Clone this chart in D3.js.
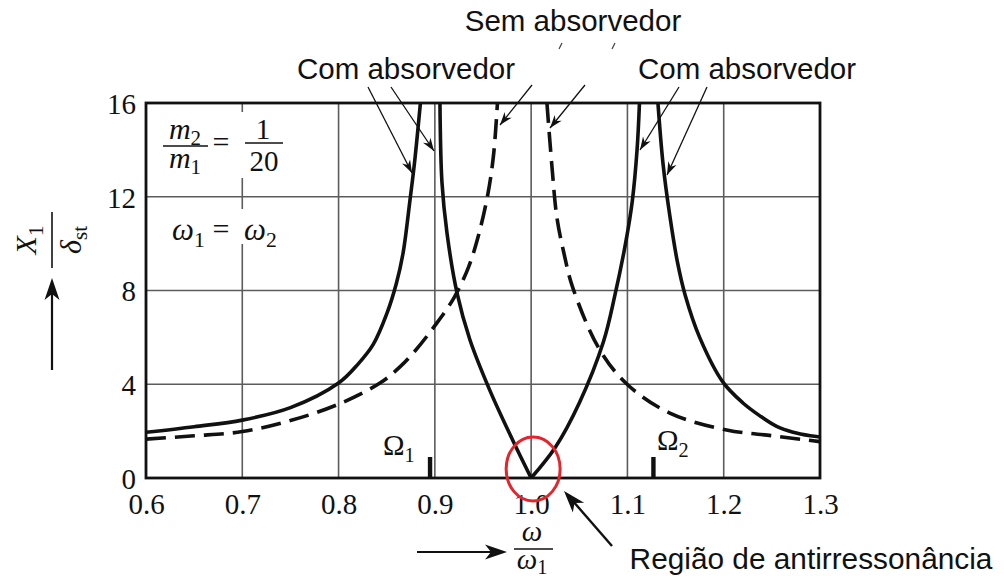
<!DOCTYPE html>
<html>
<head>
<meta charset="utf-8">
<script src="https://cdn.jsdelivr.net/npm/d3@7"></script>
<style>
  body { margin: 0; background: #fff; }
  svg { display: block; }
</style>
</head>
<body>
<script>
// Axis ticks
const freqTicks = [0.6, 0.7, 0.8, 0.9, 1.0, 1.1, 1.2, 1.3];
const ampTicks = [0, 4, 8, 12, 16];

// With absorber: branch below the first resonance
const withAbsLowR = [0.600, 0.650, 0.700, 0.750, 0.800, 0.820, 0.836, 0.850, 0.860, 0.867, 0.874, 0.879, 0.885];
const withAbsLowX = [1.95, 2.19, 2.47, 3.00, 4.05, 4.85, 5.70, 7.00, 8.30, 9.60, 11.8, 13.5, 16.0];
// With absorber: between the resonances, down to the antiresonance at 1.0
const withAbsMidLeftR = [0.9053, 0.9074, 0.9126, 0.9230, 0.9364, 0.9570, 0.9810, 1.0000];
const withAbsMidLeftX = [16.0, 12.6, 10.45, 7.9, 5.9, 3.75, 1.6, 0];
const withAbsMidRightR = [1.0000, 1.0250, 1.0500, 1.0750, 1.0870, 1.0980, 1.1050, 1.1100, 1.1125];
const withAbsMidRightX = [0, 1.3, 3.2, 5.8, 7.8, 10.0, 11.8, 14.0, 16.0];
// With absorber: branch above the second resonance
const withAbsHighR = [1.1317, 1.1370, 1.1440, 1.1520, 1.1600, 1.1750, 1.1990, 1.2200, 1.2376, 1.2550, 1.2720, 1.2900, 1.3000];
const withAbsHighX = [16.0, 13.4, 11.2, 9.2, 7.8, 6.0, 4.1, 3.2, 2.65, 2.2, 1.95, 1.8, 1.75];

// Without absorber
const noAbsLowR = [0.600, 0.650, 0.700, 0.750, 0.800, 0.843, 0.864, 0.880, 0.900, 0.920, 0.935, 0.945, 0.955, 0.961, 0.965];
const noAbsLowX = [1.66, 1.80, 1.98, 2.45, 3.15, 4.05, 4.75, 5.45, 6.50, 7.70, 9.00, 10.3, 12.1, 13.8, 16.0];
const noAbsHighR = [1.0164, 1.0216, 1.0268, 1.0340, 1.0434, 1.0714, 1.1005, 1.1440, 1.2030, 1.2510, 1.3000];
const noAbsHighX = [16.0, 13.3, 11.1, 9.6, 8.1, 5.46, 3.97, 2.77, 2.05, 1.80, 1.55];

// Natural frequencies of the two-mass system
const omegaMarks = [{ r: 0.895, name: "Ω", idx: "1" }, { r: 1.127, name: "Ω", idx: "2" }];

const W = 1004, H = 580;
const SERIF = "'Liberation Serif', 'DejaVu Serif', serif";
const SANS = "'Liberation Sans', Arial, sans-serif";
const INK = "#111";

const svg = d3.select("body").append("svg").attr("width", W).attr("height", H);

const x = d3.scaleLinear().domain([0.6, 1.3]).range([146, 820]);
const y = d3.scaleLinear().domain([0, 16]).range([478, 103]);

const defs = svg.append("defs");
defs.append("clipPath").attr("id", "plot-clip")
  .append("rect").attr("x", x(0.6)).attr("y", y(16))
  .attr("width", x(1.3) - x(0.6)).attr("height", y(0) - y(16));

defs.append("marker").attr("id", "thin-head")
  .attr("viewBox", "-14 -6 15 12").attr("refX", 0).attr("refY", 0)
  .attr("markerUnits", "userSpaceOnUse").attr("markerWidth", 15).attr("markerHeight", 12)
  .attr("orient", "auto")
  .append("path").attr("d", "M0,0 L-13,-4.5 L-9,0 L-13,4.5 Z").attr("fill", INK);

// Grid
const grid = svg.append("g").attr("stroke", "#5c5c5c").attr("stroke-width", 1.6);
grid.selectAll("line.v").data(freqTicks.slice(1, -1)).join("line").attr("class", "v")
  .attr("x1", d => x(d)).attr("x2", d => x(d)).attr("y1", y(16)).attr("y2", y(0));
grid.selectAll("line.h").data(ampTicks.slice(1, -1)).join("line").attr("class", "h")
  .attr("x1", x(0.6)).attr("x2", x(1.3)).attr("y1", d => y(d)).attr("y2", d => y(d));

// Paper behind the parameter notes
svg.append("rect").attr("x", 152).attr("y", 112).attr("width", 138).attr("height", 66).attr("fill", "#fff");
svg.append("rect").attr("x", 160).attr("y", 209).attr("width", 126).attr("height", 35).attr("fill", "#fff");

// Curves
const line = d3.line().x(d => x(d[0])).y(d => y(d[1])).curve(d3.curveCatmullRom.alpha(0.5));
const zip = (rs, xs) => rs.map((r, i) => [r, xs[i]]);
const curves = svg.append("g").attr("clip-path", "url(#plot-clip)")
  .attr("fill", "none").attr("stroke", INK).attr("stroke-width", 3.6);

[[withAbsLowR, withAbsLowX], [withAbsMidLeftR, withAbsMidLeftX],
 [withAbsMidRightR, withAbsMidRightX], [withAbsHighR, withAbsHighX]]
  .forEach(([rs, xs]) => curves.append("path").attr("d", line(zip(rs, xs))));

[[noAbsLowR, noAbsLowX], [noAbsHighR, noAbsHighX]]
  .forEach(([rs, xs]) => curves.append("path").attr("d", line(zip(rs, xs)))
    .attr("stroke-dasharray", "20 9"));

// Frame
svg.append("rect").attr("x", x(0.6)).attr("y", y(16))
  .attr("width", x(1.3) - x(0.6)).attr("height", y(0) - y(16))
  .attr("fill", "none").attr("stroke", INK).attr("stroke-width", 2.8);

// Axes
const xAxisG = svg.append("g").attr("transform", `translate(0,${y(0)})`)
  .call(d3.axisBottom(x).tickValues(freqTicks).tickFormat(d3.format(".1f")).tickSize(0).tickPadding(15));
const yAxisG = svg.append("g").attr("transform", `translate(${x(0.6)},0)`)
  .call(d3.axisLeft(y).tickValues(ampTicks).tickFormat(d3.format("d")).tickSize(0).tickPadding(10));
[xAxisG, yAxisG].forEach(g => {
  g.select(".domain").remove();
  g.attr("font-family", SERIF).attr("font-size", 29);
  g.selectAll("text").attr("fill", INK);
});
yAxisG.selectAll("text").attr("dy", "0.36em");

// Natural frequency marks
svg.append("g").selectAll("rect").data(omegaMarks).join("rect")
  .attr("x", d => x(d.r) - 2.2).attr("width", 4.4)
  .attr("y", y(0) - 21).attr("height", 21).attr("fill", INK);

function subText(parent, px, py, main, idx, o = {}) {
  const size = o.size || 29;
  const t = parent.append("text").attr("x", px).attr("y", py)
    .attr("font-family", SERIF).attr("font-size", size).attr("fill", INK)
    .attr("text-anchor", o.anchor || "start");
  t.append("tspan").attr("font-style", o.italic ? "italic" : "normal").text(main);
  if (idx) t.append("tspan").attr("font-size", size * 0.7).attr("dy", o.drop || 7).text(idx);
  return t;
}

subText(svg, 383, 455, "Ω", "1", { size: 29, drop: 7 });
subText(svg, 657, 450, "Ω", "2", { size: 29, drop: 7 });

// Parameter notes: m2/m1 = 1/20 and ω1 = ω2
const notes = svg.append("g");
subText(notes, 185, 139, "m", "2", { italic: true, anchor: "middle", size: 30, drop: 6 });
notes.append("line").attr("x1", 163).attr("x2", 208).attr("y1", 146).attr("y2", 146)
  .attr("stroke", INK).attr("stroke-width", 1.6);
subText(notes, 185, 168, "m", "1", { italic: true, anchor: "middle", size: 30, drop: 6 });
notes.append("text").attr("x", 221).attr("y", 152).attr("text-anchor", "middle")
  .attr("font-family", SERIF).attr("font-size", 30).attr("fill", INK).text("=");
notes.append("text").attr("x", 263).attr("y", 139).attr("text-anchor", "middle")
  .attr("font-family", SERIF).attr("font-size", 29).attr("fill", INK).text("1");
notes.append("line").attr("x1", 245).attr("x2", 283).attr("y1", 143).attr("y2", 143)
  .attr("stroke", INK).attr("stroke-width", 1.6);
notes.append("text").attr("x", 264).attr("y", 171).attr("text-anchor", "middle")
  .attr("font-family", SERIF).attr("font-size", 29).attr("fill", INK).text("20");

subText(notes, 172, 240, "ω", "1", { italic: true, size: 31 });
notes.append("text").attr("x", 221).attr("y", 239).attr("text-anchor", "middle")
  .attr("font-family", SERIF).attr("font-size", 30).attr("fill", INK).text("=");
subText(notes, 244, 240, "ω", "2", { italic: true, size: 31 });

// Y axis title: X1 / δst with upward arrow
const yt = svg.append("g").attr("transform", "translate(52,240) rotate(-90)");
yt.append("line").attr("x1", -28).attr("x2", 28).attr("y1", 0).attr("y2", 0)
  .attr("stroke", INK).attr("stroke-width", 1.6);
subText(yt, 0, -16, "X", "1", { italic: true, anchor: "middle", size: 30 });
subText(yt, 0, 29, "δ", "st", { italic: true, anchor: "middle", size: 30, drop: 6 });

const bigHead = (tx, ty, angle) => svg.append("path")
  .attr("d", "M0,0 L-22,-7.5 L-16,0 L-22,7.5 Z").attr("fill", INK)
  .attr("transform", `translate(${tx},${ty}) rotate(${angle})`);
svg.append("line").attr("x1", 52).attr("x2", 52).attr("y1", 370).attr("y2", 290)
  .attr("stroke", INK).attr("stroke-width", 2.2);
bigHead(52, 278, -90);

// X axis title: ω / ω1 with arrow
svg.append("line").attr("x1", 417).attr("x2", 495).attr("y1", 552).attr("y2", 552)
  .attr("stroke", INK).attr("stroke-width", 2.2);
bigHead(507, 552, 0);
svg.append("text").attr("x", 532).attr("y", 541).attr("text-anchor", "middle")
  .attr("font-family", SERIF).attr("font-style", "italic").attr("font-size", 29).attr("fill", INK).text("ω");
svg.append("line").attr("x1", 514).attr("x2", 553).attr("y1", 549).attr("y2", 549)
  .attr("stroke", INK).attr("stroke-width", 1.6);
subText(svg, 532, 569, "ω", "1", { italic: true, anchor: "middle", size: 29, drop: 5 });

// Callouts
const callout = svg.append("g").attr("font-family", SANS).attr("font-size", 29.5).attr("fill", INK);
callout.append("text").attr("x", 573).attr("y", 31).attr("text-anchor", "middle").text("Sem absorvedor");
callout.append("text").attr("x", 406).attr("y", 79).attr("text-anchor", "middle").text("Com absorvedor");
callout.append("text").attr("x", 747).attr("y", 79).attr("text-anchor", "middle").text("Com absorvedor");
callout.append("text").attr("x", 811).attr("y", 569).attr("text-anchor", "middle")
  .attr("font-size", 29.8).text("Região de antirressonância");

const pointers = [
  [368, 87, 412, 173], [391, 87, 434, 151],
  [532, 85, 500, 125], [585, 85, 550, 128],
  [679, 87, 640, 150], [707, 87, 667, 175]
];
svg.append("g").selectAll("line").data(pointers).join("line")
  .attr("x1", d => d[0]).attr("y1", d => d[1]).attr("x2", d => d[2]).attr("y2", d => d[3])
  .attr("stroke", INK).attr("stroke-width", 1.3).attr("marker-end", "url(#thin-head)");

// small strokes under the top callout
svg.append("g").attr("stroke", "#444").attr("stroke-width", 1.2)
  .selectAll("line").data([[559, 49, 562, 43], [612, 49, 615, 43]]).join("line")
  .attr("x1", d => d[0]).attr("y1", d => d[1]).attr("x2", d => d[2]).attr("y2", d => d[3]);

// Antiresonance highlight and its pointer
svg.append("ellipse").attr("cx", x(1.0) + 2).attr("cy", y(0) - 9).attr("rx", 27).attr("ry", 32)
  .attr("fill", "none").attr("stroke", "#e3262c").attr("stroke-width", 3);
svg.append("line").attr("x1", 612).attr("y1", 546).attr("x2", 572).attr("y2", 500)
  .attr("stroke", INK).attr("stroke-width", 2.4);
bigHead(564, 491, Math.atan2(491 - 546, 564 - 612) * 180 / Math.PI);
</script>
</body>
</html>
